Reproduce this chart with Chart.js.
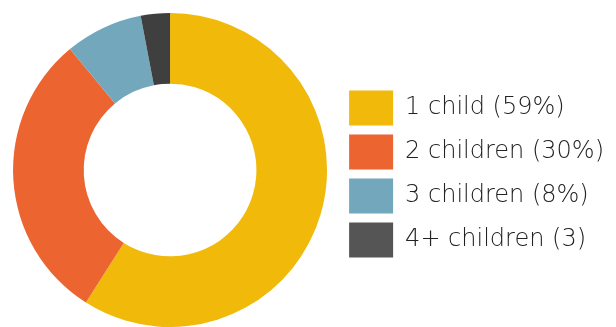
<!DOCTYPE html>
<html>
<head>
<meta charset="utf-8">
<script src="https://cdn.jsdelivr.net/npm/chart.js@4"></script>
<style>
  html, body { margin: 0; padding: 0; background: #ffffff; }
  #wrap { width: 616px; height: 327px; }
</style>
</head>
<body>
<div id="wrap"><canvas id="c" width="616" height="327"></canvas></div>
<script>
// Households by number of children
const categories = ['1 child (59%)', '2 children (30%)', '3 children (8%)', '4+ children (3)'];
const shares = [59, 30, 8, 3];
const sliceColors = ['#F1BA0A', '#EC6430', '#73A8BC', '#3F3F3F'];
const keyColors = ['#F1BA0A', '#EC6430', '#73A8BC', '#555555'];
const keyTextColor = '#222222';

new Chart(document.getElementById('c'), {
  type: 'doughnut',
  data: {
    labels: categories,
    datasets: [{
      data: shares,
      backgroundColor: sliceColors,
      borderWidth: 0,
      hoverOffset: 0
    }]
  },
  options: {
    responsive: false,
    animation: false,
    cutout: '55%',
    layout: { padding: { left: 0, top: 13, right: 2, bottom: 0 } },
    plugins: {
      tooltip: { enabled: false },
      legend: {
        position: 'right',
        align: 'center',
        // empty spacer title nudges the key block down a little
        title: { display: true, text: '', font: { size: 1 }, padding: { top: 7, bottom: 0 } },
        labels: {
          boxWidth: 44,
          boxHeight: 35,
          padding: 9,
          color: keyTextColor,
          font: { family: 'DejaVu Sans', size: 24, weight: '200' },
          generateLabels(chart) {
            return chart.data.labels.map((text, i) => ({
              text,
              fillStyle: keyColors[i],
              strokeStyle: keyColors[i],
              lineWidth: 0,
              fontColor: keyTextColor,
              hidden: false,
              index: i
            }));
          }
        }
      }
    }
  }
});
</script>
</body>
</html>
